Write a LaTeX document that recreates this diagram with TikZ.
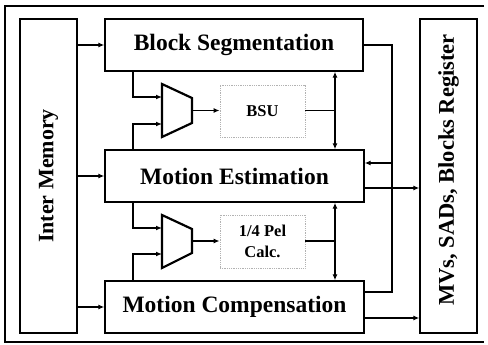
\documentclass[tikz,border=0pt]{standalone}
\usepackage{fontspec}
\setmainfont{Liberation Serif}
\usetikzlibrary{arrows.meta,calc}
\begin{document}
\begin{tikzpicture}[x=1pt,y=-1pt,
 blk/.style={draw, line width=1.3pt, inner sep=0pt, font=\fontsize{23.5}{28}\selectfont\bfseries},
 vtext/.style={rotate=90, inner sep=0pt, font=\fontsize{22.5}{27}\selectfont\bfseries},
 dbox/.style={draw=gray!60, densely dotted, line width=0.8pt, inner sep=0pt, font=\fontsize{16.5}{20.5}\selectfont\bfseries, align=center},
 conn/.style={line width=1.2pt},
 arr/.style={conn, -{Latex[length=6pt,width=5pt]}},
 darr/.style={conn, {Latex[length=6pt,width=5pt]}-{Latex[length=6pt,width=5pt]}},
 muxs/.style={line width=2.2pt, line join=miter}
]
\useasboundingbox (0,0) rectangle (488,345);
\draw[line width=1.4pt] (484,6) -- (5,6) -- (5,342) -- (484,342);

% main blocks
\node[blk, minimum width=258pt, minimum height=52pt] (BS) at (234,45) {Block Segmentation};
\node[blk, minimum width=259pt, minimum height=52pt] (ME) at (234.5,176) {Motion Estimation};
\node[blk, minimum width=259pt, minimum height=52pt] (MC) at (234.5,307) {Motion Compensation};
\node[blk, minimum width=57pt, minimum height=314pt] (IM) at (48.5,176) {};
\node[vtext, font=\fontsize{22}{26}\selectfont\bfseries] (IMt) at (48.5,176) {Inter Memory};
\node[blk, minimum width=57pt, minimum height=314pt] (REG) at (448.5,176) {};
\node[vtext] (REGt) at (448.5,170) {MVs, SADs, Blocks Register};

% dotted units
\node[dbox, minimum width=85pt, minimum height=52pt] (BSU) at (262.5,111) {BSU};
\node[dbox, minimum width=85pt, minimum height=53pt] (PEL) at (262.5,241.5) {1/4 Pel\\Calc.};

% multiplexers
\draw[muxs] (162,84) -- (192,98) -- (192,123) -- (162,137) -- cycle;
\coordinate (m1a) at (162,97);
\coordinate (m1b) at (162,124);
\coordinate (m1o) at (192,110.5);
\draw[muxs] (162,215) -- (192,229) -- (192,253) -- (162,268) -- cycle;
\coordinate (m2a) at (162,228);
\coordinate (m2b) at (162,254);
\coordinate (m2o) at (192,241);

\coordinate (kx) at (133,0);
\coordinate (dx) at (335,0);
\coordinate (rx) at (392,0);

% inter memory to blocks
\draw[arr] (IM.east |- BS.west) -- (BS.west);
\draw[arr] (IM.east |- ME.west) -- (ME.west);
\draw[arr] (IM.east |- MC.west) -- (MC.west);

% mux 1
\draw[arr] (kx |- BS.south) -- (kx |- m1a) -- (m1a);
\draw[arr] (kx |- ME.north) -- (kx |- m1b) -- (m1b);
\draw[arr] (m1o) -- (BSU.west |- m1o);
\draw[darr] (dx |- BS.south) -- (dx |- ME.north);
\draw[conn] (BSU.east |- m1o) -- (dx |- m1o);

% mux 2
\draw[arr] (kx |- ME.south) -- (kx |- m2a) -- (m2a);
\draw[arr] (kx |- MC.north) -- (kx |- m2b) -- (m2b);
\draw[arr] (m2o) -- (PEL.west |- m2o);
\draw[darr] (dx |- ME.south) -- (dx |- MC.north);
\draw[conn] (PEL.east |- m2o) -- (dx |- m2o);

% right side
\coordinate (y163) at (0,163);
\coordinate (y188) at (0,188);
\coordinate (y292) at (0,292);
\coordinate (y318) at (0,318);
\draw[conn] (BS.east) -- (rx |- BS.east) -- (rx |- y292) -- (MC.east |- y292);
\draw[arr] (rx |- y163) -- (ME.east |- y163);
\draw[arr] (ME.east |- y188) -- (REG.west |- y188);
\draw[arr] (MC.east |- y318) -- (REG.west |- y318);
\end{tikzpicture}
\end{document}
